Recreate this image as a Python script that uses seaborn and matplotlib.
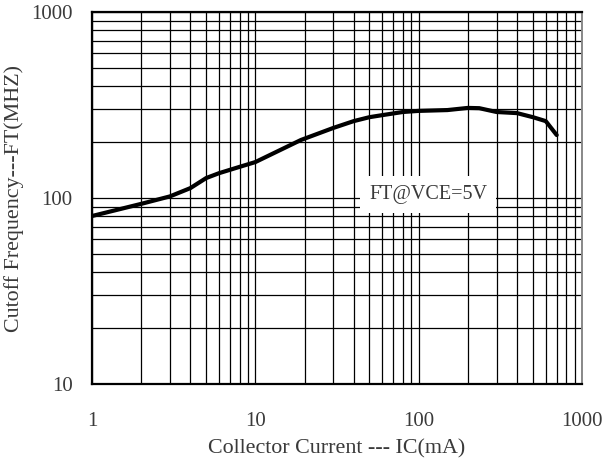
import matplotlib
matplotlib.use("Agg")
import matplotlib.pyplot as plt
import seaborn as sns
import pandas as pd

# Collector current (mA) and transition frequency (MHz), VCE = 5 V
ic_ma = [1, 2, 3, 4, 5, 6, 8, 10, 19, 30, 40, 50, 60, 80, 100, 150, 200, 235, 300, 400, 500, 600, 700]
ft_mhz = [80, 93, 102, 113, 128, 136, 147, 156, 205, 238, 259, 272, 279, 290, 294, 297, 305, 304, 290, 286, 272, 259, 218]

x_ticks = [1, 10, 100, 1000]
y_ticks = [10, 100, 1000]
x_label = "Collector Current --- IC(mA)"
y_label = "Cutoff Frequency---FT(MHZ)"
note = "FT@VCE=5V"

sns.set_style("white")
plt.rcParams["font.family"] = ["Liberation Serif", "DejaVu Serif"]

df = pd.DataFrame({"IC": ic_ma, "FT": ft_mhz})

fig = plt.figure(figsize=(6.05, 4.68), dpi=100)
ax = fig.add_axes([92 / 605, 1 - 384 / 468, 490 / 605, 372 / 468])

ax.set_xscale("log")
ax.set_yscale("log")
ax.set_xlim(1, 1000)
ax.set_ylim(10, 1000)

# full log grid: every major and minor decade line
ax.grid(True, which="both", color="black", linewidth=0.9)
ax.set_axisbelow(True)

sns.lineplot(data=df, x="IC", y="FT", ax=ax, color="black", linewidth=3.0,
             sort=False, estimator=None, zorder=3)

text_color = "#3a3a3a"
ax.set_xticks(x_ticks)
ax.set_xticklabels([str(v) for v in x_ticks])
ax.set_yticks(y_ticks)
ax.set_yticklabels([str(v) for v in y_ticks])
ax.tick_params(axis="both", which="both", length=0, labelsize=15, colors=text_color)
ax.tick_params(axis="x", pad=20)
ax.tick_params(axis="y", pad=14)

ax.set_xlabel(x_label, fontsize=15.8, color=text_color, labelpad=6)
ax.set_ylabel(y_label, fontsize=15.8, color=text_color, labelpad=5)

for side in ["left", "bottom", "top"]:
    ax.spines[side].set_visible(True)
    ax.spines[side].set_color("black")
    ax.spines[side].set_linewidth(1.6)
ax.spines["right"].set_visible(True)
ax.spines["right"].set_color("#888888")
ax.spines["right"].set_linewidth(1.4)

ax.text(114, 104, note, fontsize=14.5, color=text_color, ha="center", va="center",
        zorder=4, bbox=dict(boxstyle="square,pad=0.45", facecolor="white", edgecolor="none"))

fig.savefig("out.png", dpi=100)
